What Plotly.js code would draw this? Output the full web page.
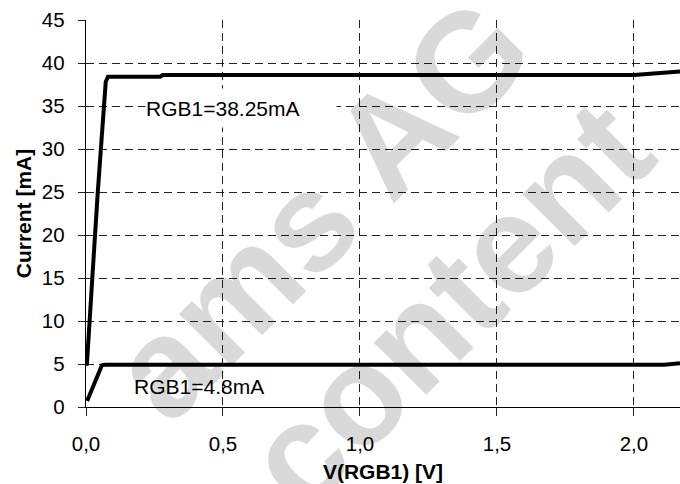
<!DOCTYPE html>
<html>
<head>
<meta charset="utf-8">
<script src="https://cdn.plot.ly/plotly-3.0.1.min.js"></script>
<style>
  html, body { margin: 0; padding: 0; background: #fff; }
  #chart { width: 680px; height: 484px; }
</style>
</head>
<body>
<div id="chart"></div>
<script>
// ---- data ----
const vHigh = [0.003, 0.010, 0.023, 0.043, 0.064, 0.072, 0.080, 0.270, 0.280, 1.000, 2.000, 2.168];
const iHigh = [4.8, 8.0, 15.0, 25.0, 35.0, 37.8, 38.4, 38.4, 38.6, 38.6, 38.6, 39.0];

const vLow = [0.004, 0.058, 0.070, 2.110, 2.168];
const iLow = [0.7, 4.85, 4.9, 4.9, 5.1];

const xTickVals = [0, 0.5, 1.0, 1.5, 2.0];
const xTickText = ['0,0', '0,5', '1,0', '1,5', '2,0'];
const yTickVals = [0, 5, 10, 15, 20, 25, 30, 35, 40, 45];
const yTickText = ['0', '5', '10', '15', '20', '25', '30', '35', '40', '45'];

const labelHigh = 'RGB1=38.25mA';
const labelLow = 'RGB1=4.8mA';
const xTitle = 'V(RGB1) [V]';
const yTitle = 'Current [mA]';
const watermark1 = 'ams AG';
const watermark2 = 'content';

const FONT = 'Liberation Sans, Arial, Helvetica, sans-serif';

const traces = [
  { x: vHigh, y: iHigh, mode: 'lines', line: { color: '#000', width: 4 }, hoverinfo: 'skip' },
  { x: vLow, y: iLow, mode: 'lines', line: { color: '#000', width: 4 }, hoverinfo: 'skip' }
];

const layout = {
  width: 680, height: 484,
  margin: { l: 86, r: 0, t: 20, b: 77 },
  paper_bgcolor: '#fff', plot_bgcolor: '#fff',
  showlegend: false,
  font: { family: FONT, color: '#000', size: 20 },
  xaxis: {
    range: [0, 2.168],
    tickvals: xTickVals, ticktext: xTickText,
    showgrid: true, gridcolor: '#222', gridwidth: 1, griddash: '8px,5px',
    zeroline: false,
    showline: true, linecolor: '#000', linewidth: 1.3,
    ticks: 'outside', ticklen: 8, tickcolor: '#222', tickwidth: 1,
    tickfont: { family: FONT, size: 20.5, color: '#000' },
    ticklabelstandoff: 10,
    title: { text: '<b>' + xTitle + '</b>', font: { family: FONT, size: 21, color: '#000' }, standoff: 10 },
    automargin: false
  },
  yaxis: {
    range: [0, 45],
    tickvals: yTickVals, ticktext: yTickText,
    showgrid: true, gridcolor: '#222', gridwidth: 1, griddash: '8px,5px',
    zeroline: false,
    showline: true, linecolor: '#000', linewidth: 1.3,
    ticks: 'outside', ticklen: 7, tickcolor: '#222', tickwidth: 1,
    tickfont: { family: FONT, size: 20.5, color: '#000' },
    ticklabelstandoff: 9,
    title: { text: '<b>' + yTitle + '</b>', font: { family: FONT, size: 21, color: '#000' }, standoff: 4 },
    automargin: false
  },
  annotations: [
    { xref: 'paper', yref: 'paper', x: 0.394, y: 0.514, xanchor: 'center', yanchor: 'middle',
      text: '<b>' + watermark1 + '</b>', textangle: -45, showarrow: false,
      font: { family: FONT, size: 140, color: 'rgba(0,0,0,0.15)' } },
    { xref: 'paper', yref: 'paper', x: 0.609, y: 0.266, xanchor: 'center', yanchor: 'middle',
      text: '<b>' + watermark2 + '</b>', textangle: -45, showarrow: false,
      font: { family: FONT, size: 140, color: 'rgba(0,0,0,0.15)' } },
    { xref: 'x', yref: 'y', x: 0.2135, y: 34.8, xanchor: 'left', yanchor: 'middle',
      text: labelHigh, showarrow: false, bgcolor: '#fff', width: 190, height: 38,
      align: 'left', borderpad: 0, font: { family: FONT, size: 21, color: '#000' } },
    { xref: 'x', yref: 'y', x: 0.17, y: 2.33, xanchor: 'left', yanchor: 'middle',
      text: labelLow, showarrow: false, borderpad: 0,
      font: { family: FONT, size: 21, color: '#000' } }
  ]
};

Plotly.newPlot('chart', traces, layout, { staticPlot: true, displayModeBar: false });
</script>
</body>
</html>
